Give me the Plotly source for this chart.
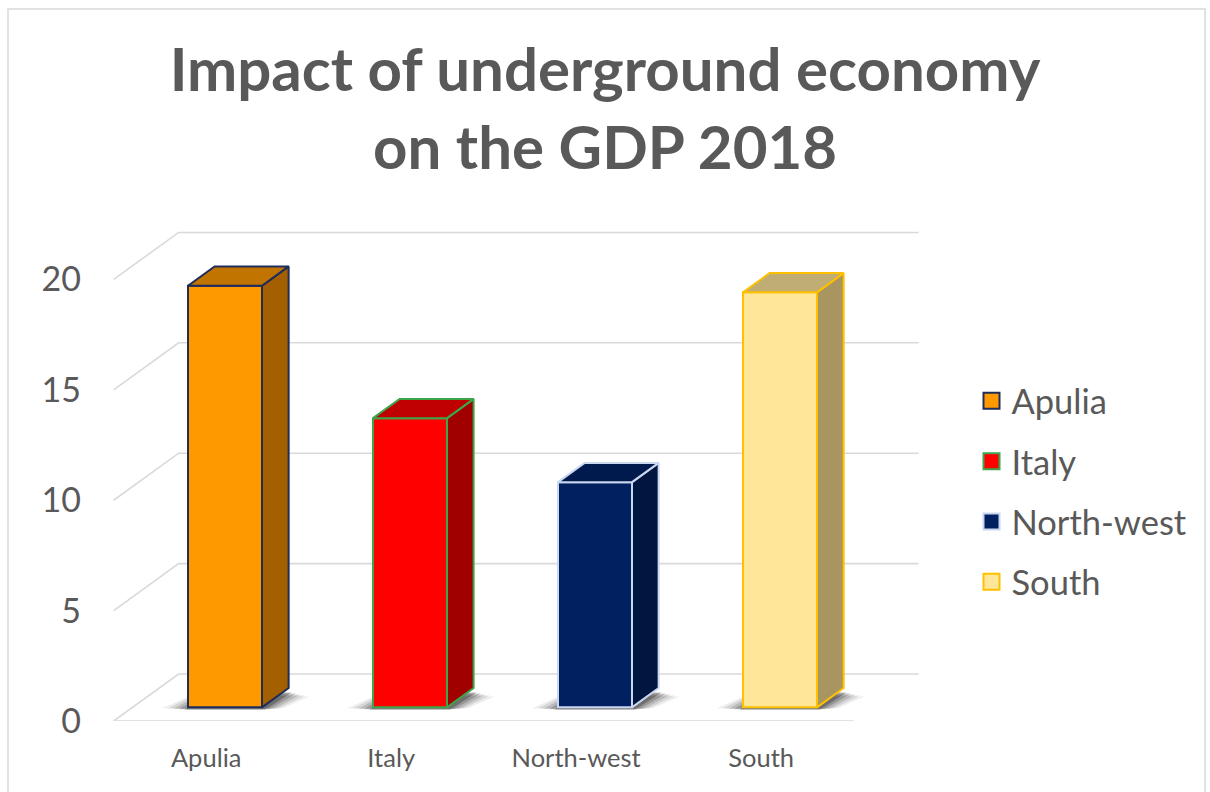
import plotly.graph_objects as go

# ---------------- data ----------------
categories = ["Apulia", "Italy", "North-west", "South"]
values = [19.1, 13.1, 10.2, 18.8]
y_ticks = [0, 5, 10, 15, 20]

front_colors = ["#FF9900", "#FF0000", "#002060", "#FFE699"]
top_colors = ["#C27400", "#C00000", "#001A4D", "#BFAD73"]
side_colors = ["#A35F00", "#A00000", "#001540", "#A8955F"]
edge_colors = ["#1F2D5A", "#3DA54A", "#C9D7F0", "#FFC000"]

# ---------------- pseudo-3D projection constants (data units) ----------------
FLOOR_DX, FLOOR_DY = 0.351, 2.13   # offset from front floor edge to back wall
BAR_F0 = 0.29                      # depth fraction of bar front face
BAR_FD = 0.41                      # depth fraction taken by the bar
BAR_W = 0.4
GRID_COLOR = "#D9D9D9"
TEXT_COLOR = "#595959"

n = len(categories)
xs = list(range(n))
front_shift_x = BAR_F0 * FLOOR_DX
base_y = BAR_F0 * FLOOR_DY
ddx, ddy = BAR_FD * FLOOR_DX, BAR_FD * FLOOR_DY
fx0 = -0.5 - front_shift_x
fx1 = (n - 1) + 0.5 - front_shift_x

fig = go.Figure()
shapes = []

# chart border
shapes.append(dict(type="rect", xref="paper", yref="paper",
                   x0=(8 - 100) / 830, x1=(1205 - 100) / 830,
                   y0=(721 - 800) / 506, y1=(721 - 9) / 506,
                   line=dict(color="#D9D9D9", width=1.5), layer="below"))

# gridlines: left wall diagonals + back wall horizontals (below traces)
for k in y_ticks:
    path = (f"M {fx0},{k} L {fx0 + FLOOR_DX},{k + FLOOR_DY} "
            f"L {fx1 + FLOOR_DX},{k + FLOOR_DY}")
    shapes.append(dict(type="path", path=path, xref="x", yref="y",
                       line=dict(color=GRID_COLOR, width=1.6), layer="below"))
shapes.append(dict(type="line", xref="x", yref="y", x0=fx0, x1=fx1, y0=0, y1=0,
                   line=dict(color=GRID_COLOR, width=1.6), layer="below"))

# soft shadows under the bars
for i, v in enumerate(values):
    for e, op in [(0.14, 0.08), (0.11, 0.11), (0.08, 0.15), (0.05, 0.2), (0.02, 0.3)]:
        xl = i - BAR_W / 2 - e
        xr = i + BAR_W / 2 + e * 0.8
        y_lo = base_y - 0.12 + e * 0.6
        y_hi = base_y + ddy * 0.8 - e * 1.5
        path = (f"M {xl},{y_lo} L {xr},{y_lo} L {xr + ddx},{y_hi} "
                f"L {xl + ddx},{y_hi} Z")
        shapes.append(dict(type="path", path=path, xref="x", yref="y",
                           fillcolor=f"rgba(20,20,20,{op})", line=dict(width=0),
                           layer="below"))

# front faces as bars
fig.add_trace(go.Bar(
    x=xs, y=values, base=[base_y] * n, width=BAR_W,
    marker=dict(color=front_colors, line=dict(color=edge_colors, width=2)),
    hovertext=categories, showlegend=False,
))

# side and top faces
for i, v in enumerate(values):
    xr = i + BAR_W / 2
    xl = i - BAR_W / 2
    top = base_y + v
    fig.add_trace(go.Scatter(
        x=[xr, xr + ddx, xr + ddx, xr, xr],
        y=[base_y, base_y + ddy, top + ddy, top, base_y],
        mode="lines", fill="toself", fillcolor=side_colors[i],
        line=dict(color=edge_colors[i], width=2), hoverinfo="skip", showlegend=False))
    fig.add_trace(go.Scatter(
        x=[xl, xr, xr + ddx, xl + ddx, xl],
        y=[top, top, top + ddy, top + ddy, top],
        mode="lines", fill="toself", fillcolor=top_colors[i],
        line=dict(color=edge_colors[i], width=2), hoverinfo="skip", showlegend=False))

# legend proxies
for i, c in enumerate(categories):
    fig.add_trace(go.Scatter(
        x=[None], y=[None], mode="markers", name=c, legendgroup=c,
        marker=dict(symbol="square", size=16, color=front_colors[i],
                    line=dict(color=edge_colors[i], width=2))))

fig.update_layout(
    width=1210, height=792,
    margin=dict(l=100, r=280, t=215, b=71),
    paper_bgcolor="white", plot_bgcolor="white",
    font=dict(family="Lato", color=TEXT_COLOR),
    title=dict(text="Impact of underground economy<br>on the GDP 2018",
               font=dict(family="Lato", size=60, color=TEXT_COLOR, weight="bold"),
               x=0.5, xref="container", xanchor="center",
               y=1 - 91 / 792, yref="container", yanchor="middle"),
    xaxis=dict(range=[-0.6757, 3.8108], tickmode="array",
               tickvals=[x - front_shift_x for x in xs], ticktext=categories,
               showgrid=False, zeroline=False, showline=False, ticks="",
               tickfont=dict(size=25.5, color=TEXT_COLOR), ticklabelstandoff=19,
               fixedrange=True),
    yaxis=dict(range=[0, 22.92], tickmode="array", tickvals=y_ticks,
               ticktext=[str(t) for t in y_ticks],
               showgrid=False, zeroline=False, showline=False, ticks="",
               tickfont=dict(size=34, color=TEXT_COLOR), ticklabelstandoff=18,
               fixedrange=True),
    legend=dict(x=1.05, y=0.69, xanchor="left", yanchor="top",
                font=dict(size=34.5, color=TEXT_COLOR), tracegroupgap=12.5,
                bgcolor="rgba(0,0,0,0)"),
    shapes=shapes,
    showlegend=True,
)

fig.write_html("out.html")
